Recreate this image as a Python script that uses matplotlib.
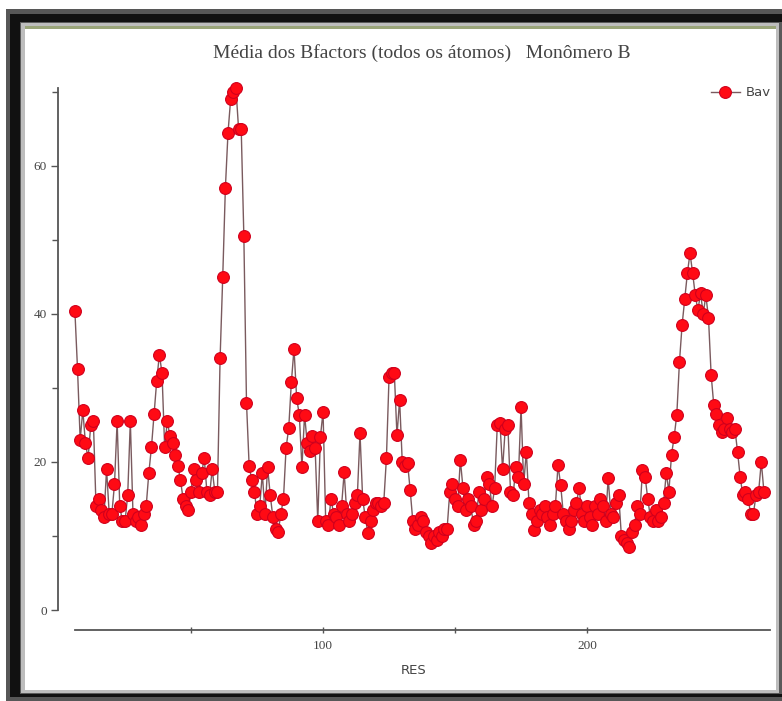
import numpy as np
import matplotlib
matplotlib.use("Agg")
import matplotlib.pyplot as plt
from matplotlib.patches import Rectangle
from matplotlib.ticker import FixedLocator

# ---- data ----
first_res = 6
bav = [
    40.4, 32.5, 23, 27, 22.5, 20.5, 25, 25.5, 14, 15,          # 6-15
    13.5, 12.5, 19, 13, 13, 17, 25.5, 14, 12, 12,              # 16-25
    15.5, 25.5, 13, 12, 12.5, 11.5, 13, 14, 18.5, 22,          # 26-35
    26.5, 31, 34.5, 32, 22, 25.5, 23.5, 22.5, 21, 19.5,        # 36-45
    17.5, 15, 14, 13.5, 16, 19, 17.5, 16, 18.5, 20.5,          # 46-55
    16, 15.5, 19, 16, 16, 34, 45, 57, 64.5, 69,                # 56-65
    70, 70.5, 65, 65, 50.5, 28, 19.5, 17.5, 16, 13,            # 66-75
    14, 18.5, 13, 19.3, 15.5, 12.5, 11, 10.5, 13, 15,          # 76-85
    21.9, 24.6, 30.8, 35.3, 28.6, 26.4, 19.3, 26.4, 22.5, 21.5,  # 86-95
    23.5, 21.9, 12, 23.4, 26.8, 12, 11.5, 15, 13, 12.5,        # 96-105
    11.5, 14, 18.6, 13, 12, 13, 14.5, 15.5, 23.9, 15,          # 106-115
    12.5, 10.4, 12, 13.5, 14.5, 14.5, 14, 14.5, 20.5, 31.5,    # 116-125
    32, 32, 23.6, 28.4, 20, 19.5, 19.9, 16.2, 12, 11,          # 126-135
    11.5, 12.6, 12, 10.5, 10, 9, 10, 9.5, 10.5, 10,            # 136-145
    11, 11, 16, 17, 15, 14, 20.3, 16.5, 13.5, 15,              # 146-155
    14, 11.5, 12, 16, 13.5, 15, 18, 17, 14, 16.5,              # 156-165
    25, 25.3, 19, 24.5, 25, 16, 15.5, 19.3, 18, 27.4,          # 166-175
    17, 21.4, 14.5, 13, 10.8, 12, 13.5, 13, 14, 12.5,          # 176-185
    11.5, 13, 14, 19.6, 16.9, 13, 12, 11, 12, 13.5,            # 186-195
    14.5, 16.5, 13, 12, 14, 12.5, 11.5, 14, 13, 15,            # 196-205
    14, 12, 17.8, 13, 12.5, 14.5, 15.5, 10, 9.5, 9,            # 206-215
    8.5, 10.5, 11.5, 14, 13, 18.9, 18, 15, 12.5, 12,           # 216-225
    13.5, 12, 12.5, 14.5, 18.5, 16, 21, 23.4, 26.4, 33.5,      # 226-235
    38.5, 42, 45.5, 48.2, 45.5, 42.5, 40.5, 42.8, 40, 42.5,    # 236-245
    39.5, 31.8, 27.7, 26.5, 25, 24, 24.5, 26, 24.5, 24,        # 246-255
    24.5, 21.4, 18, 15.5, 16, 15, 13, 13, 15.5, 16,            # 256-265
    20, 16,                                                    # 266-267
]
res = np.arange(first_res, first_res + len(bav))

title = "Média dos Bfactors (todos os átomos)   Monômero B"
xlabel = "RES"
series_name = "Bav"
y_major = [0, 20, 40, 60]
y_minor = [10, 30, 50, 70]
x_major = [100, 200]
x_minor = [50, 150]

# ---- figure ----
W, H = 782, 701
fig = plt.figure(figsize=(W / 100, H / 100), dpi=100, facecolor="white")


def px_rect(x0, y0, x1, y1, color):
    fig.add_artist(Rectangle((x0 / W, 1 - y1 / H), (x1 - x0) / W, (y1 - y0) / H,
                             transform=fig.transFigure, facecolor=color,
                             edgecolor="none", zorder=-10))


px_rect(6, 9, 782, 701, "#575757")
px_rect(10, 14, 782, 697, "#111111")
px_rect(20, 22, 782, 694, "#5a5a5a")
px_rect(21, 23, 779, 693, "#bdbdbd")
px_rect(25, 26, 776, 690, "#ffffff")
px_rect(25, 26, 776, 29, "#9aa57a")

# axes in pixel coordinates
ax_l, ax_r, ax_t, ax_b = 58, 770, 80, 630
ax = fig.add_axes([ax_l / W, 1 - ax_b / H, (ax_r - ax_l) / W, (ax_b - ax_t) / H])
ax.set_facecolor("none")

ax.plot(res, bav, color="#7a5a5e", linewidth=1.0, marker="o", markersize=8.5,
        markerfacecolor="#ff0a14", markeredgecolor="#d0001c", markeredgewidth=0.8,
        label=series_name, zorder=3)

ax.set_xlim(-0.4, 269.3)
ax.set_ylim(-2.7, 71.6)

for s in ["top", "right"]:
    ax.spines[s].set_visible(False)
for s in ["left", "bottom"]:
    ax.spines[s].set_color("#555555")
    ax.spines[s].set_linewidth(1.3)
ax.spines["left"].set_bounds(0, 70.5)
ax.spines["bottom"].set_bounds(6, 269.3)

ax.yaxis.set_major_locator(FixedLocator(y_major))
ax.yaxis.set_minor_locator(FixedLocator(y_minor))
ax.xaxis.set_major_locator(FixedLocator(x_major))
ax.xaxis.set_minor_locator(FixedLocator(x_minor))

ax.tick_params(axis="both", which="both", colors="#555555", labelcolor="#444444",
               labelsize=9.5, width=1.0)
ax.tick_params(axis="y", which="major", length=5, direction="out", pad=3)
ax.tick_params(axis="y", which="minor", length=4, direction="out")
ax.tick_params(axis="x", which="major", length=5, direction="inout", pad=5)
ax.tick_params(axis="x", which="minor", length=4, direction="inout")
for lab in ax.get_yticklabels() + ax.get_xticklabels():
    lab.set_family("Liberation Serif")

ax.set_xlabel(xlabel, fontsize=9.5, color="#444444", labelpad=8)

fig.text(422 / W, 1 - 53 / H, title, ha="center", va="center", fontsize=14,
         family="Liberation Serif", color="#444444")

leg = ax.legend(loc="center left", bbox_to_anchor=(704 / W, 1 - 93 / H),
                bbox_transform=fig.transFigure, frameon=False, fontsize=9.5,
                handlelength=2.2, handletextpad=0.5, borderpad=0)
for t in leg.get_texts():
    t.set_color("#444444")

fig.savefig("out.png", dpi=100, facecolor="white")
